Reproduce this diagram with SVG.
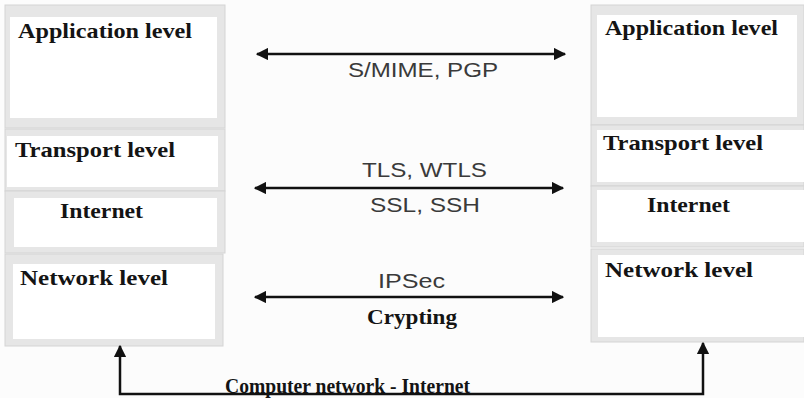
<svg xmlns="http://www.w3.org/2000/svg" width="804" height="398" viewBox="0 0 804 398">
<defs>
<style>
.frame{fill:#e6e6e6;stroke:#d4d4d4;stroke-width:1}
.inner{fill:#ffffff}
.lbl{font-family:"Liberation Serif","Times New Roman",serif;font-weight:bold;font-size:21px;fill:#141414}
.proto{font-family:"Liberation Sans",Arial,sans-serif;font-size:19.5px;fill:#3a3a3a}
.conn{stroke:#111;stroke-width:2.5;fill:none}
</style>
<marker id="ah" viewBox="0 0 10 10" refX="9" refY="5" markerWidth="5" markerHeight="5" orient="auto-start-reverse" markerUnits="strokeWidth">
<path d="M0,0 L10,5 L0,10 Z" fill="#111"/>
</marker>
</defs>
<rect x="0" y="0" width="804" height="398" fill="#fcfcfc"/>
<g id="left-application">
<rect class="frame" x="5" y="5" width="220" height="123"/>
<rect class="inner" x="10" y="17" width="207" height="101"/>
<text class="lbl" x="18" y="38" textLength="174" lengthAdjust="spacingAndGlyphs">Application level</text>
</g>
<g id="left-transport">
<rect class="frame" x="5" y="129" width="220" height="62"/>
<rect class="inner" x="7" y="136" width="211" height="51"/>
<text class="lbl" x="15" y="157" textLength="160" lengthAdjust="spacingAndGlyphs">Transport level</text>
</g>
<g id="left-internet">
<rect class="frame" x="5" y="191" width="220" height="62"/>
<rect class="inner" x="14" y="198" width="203" height="49"/>
<text class="lbl" x="60" y="218" textLength="83" lengthAdjust="spacingAndGlyphs">Internet</text>
</g>
<g id="left-network">
<rect class="frame" x="5" y="254" width="218" height="92"/>
<rect class="inner" x="13" y="264" width="202" height="75"/>
<text class="lbl" x="20" y="285" textLength="148" lengthAdjust="spacingAndGlyphs">Network level</text>
</g>
<g id="right-application">
<rect class="frame" x="591" y="5" width="213" height="120"/>
<rect class="inner" x="597" y="15" width="200" height="102"/>
<text class="lbl" x="605" y="35" textLength="173" lengthAdjust="spacingAndGlyphs">Application level</text>
</g>
<g id="right-transport">
<rect class="frame" x="591" y="125" width="213" height="61"/>
<rect class="inner" x="597" y="130" width="207" height="52"/>
<text class="lbl" x="603" y="150" textLength="160" lengthAdjust="spacingAndGlyphs">Transport level</text>
</g>
<g id="right-internet">
<rect class="frame" x="591" y="186" width="213" height="61"/>
<rect class="inner" x="597" y="190" width="207" height="52"/>
<text class="lbl" x="647" y="212" textLength="83" lengthAdjust="spacingAndGlyphs">Internet</text>
</g>
<g id="right-network">
<rect class="frame" x="591" y="249" width="213" height="93"/>
<rect class="inner" x="598" y="255" width="206" height="82"/>
<text class="lbl" x="605" y="277" textLength="148" lengthAdjust="spacingAndGlyphs">Network level</text>
</g>
<g id="connectors">
<line class="conn" x1="257" y1="54" x2="565" y2="54" marker-start="url(#ah)" marker-end="url(#ah)"/>
<line class="conn" x1="255" y1="188" x2="563" y2="188" marker-start="url(#ah)" marker-end="url(#ah)"/>
<line class="conn" x1="255" y1="297" x2="563" y2="297" marker-start="url(#ah)" marker-end="url(#ah)"/>
<polyline class="conn" points="120,346 120,394 703,394 703,343" marker-start="url(#ah)" marker-end="url(#ah)"/>
</g>
<g id="labels">
<text class="proto" x="348" y="77" textLength="150" lengthAdjust="spacingAndGlyphs">S/MIME, PGP</text>
<text class="proto" x="362" y="177" textLength="125" lengthAdjust="spacingAndGlyphs">TLS, WTLS</text>
<text class="proto" x="370" y="212" textLength="110" lengthAdjust="spacingAndGlyphs">SSL, SSH</text>
<text class="proto" x="378" y="288" textLength="67" lengthAdjust="spacingAndGlyphs">IPSec</text>
<text class="lbl" x="367" y="324" textLength="90" lengthAdjust="spacingAndGlyphs">Crypting</text>
<text class="lbl" x="225" y="393" textLength="245" lengthAdjust="spacingAndGlyphs">Computer network - Internet</text>
</g>
</svg>
